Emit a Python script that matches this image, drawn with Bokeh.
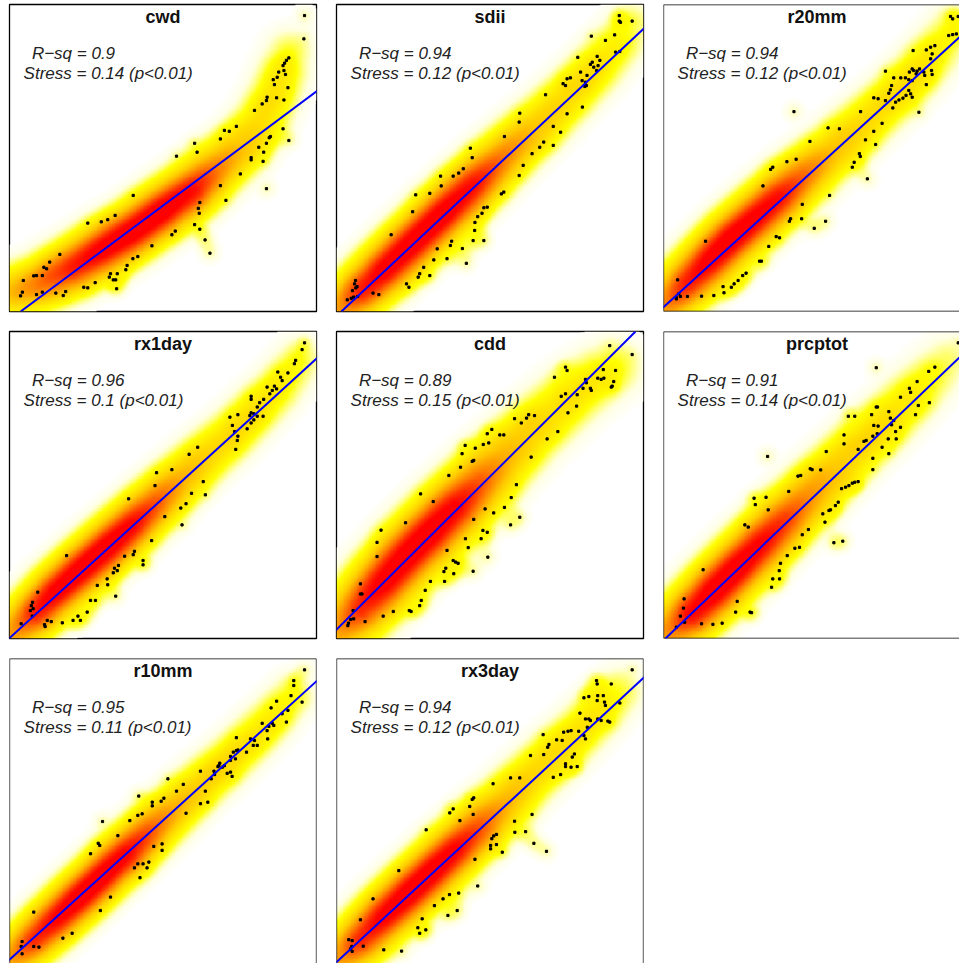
import numpy as np
from bokeh.plotting import figure
from bokeh.layouts import column, row
from bokeh.models import Slope, Span, Label, Range1d
from bokeh.embed import file_html
from bokeh.resources import INLINE

# ---------------- data (panel units 0..100) ----------------
panel_names = ["cwd", "sdii", "r20mm", "rx1day", "cdd", "prcptot", "r10mm", "rx3day"]
r_squared = ["0.9", "0.94", "0.94", "0.96", "0.89", "0.91", "0.95", "0.94"]
stress = ["0.14", "0.12", "0.12", "0.1", "0.15", "0.14", "0.11", "0.12"]
fit_intercept = [-2.7, -1.5, 1.4, 0.15, 2.9, -0.6, 1.9, 1.1]
fit_slope = [0.744, 0.936, 0.912, 0.91, 0.997, 0.956, 0.907, 0.926]

cwd_x = [96.1,95.9,91.0,90.2,89.6,89.1,87.7,89.4,87.2,85.9,89.9,86.3,90.7,83.9,83.7,87.0,89.4,82.3,79.8,89.1,85.0,84.6,83.7,81.2,91.0,82.8,78.7,78.7,82.6,75.2,83.7,70.0,71.6,73.9,68.7,60.3,61.1,54.4,68.7,70.5,62.0,61.5,61.8,60.3,62.0,63.7,65.3,54.0,52.9,40.3,46.4,41.8,40.2,38.3,37.9,35.1,34.6,32.9,33.8,32.5,34.9,27.9,25.5,24.2,25.5,29.9,32.0,34.4,16.4,13.1,12.1,11.2,10.7,8.8,7.9,4.5,4.2,3.6,8.8,10.7,15.1,17.5,18.3]
cwd_y = [96.4,88.8,82.6,81.8,80.9,80.1,78.0,78.5,76.3,75.5,77.2,73.9,72.9,69.8,68.7,69.6,68.9,67.6,65.5,59.5,57.0,56.6,54.8,53.5,55.7,51.9,50.1,49.4,48.9,44.8,40.0,59.0,58.7,60.3,56.2,54.8,51.9,50.6,41.0,36.2,35.5,33.6,32.0,28.3,26.8,23.3,19.0,26.2,25.0,37.8,21.4,17.9,17.2,15.0,13.6,12.3,10.3,12.3,10.3,11.2,7.4,9.4,7.7,7.9,28.8,29.2,29.9,31.3,18.6,16.1,13.9,14.4,11.7,11.7,11.6,10.1,6.3,5.1,5.5,6.3,6.0,5.2,6.5]

sdii_x = [92.1,92.1,92.5,96.3,90.6,87.6,83.0,90.9,92.3,78.6,84.9,83.3,82.7,85.8,83.8,85.2,84.7,79.5,80.0,81.1,81.6,81.4,80.9,76.2,75.1,73.8,74.6,80.1,75.1,68.1,59.7,59.5,70.6,73.0,67.5,66.2,70.6,63.7,60.8,59.5,54.7,54.5,53.7,43.6,44.2,41.3,39.8,38.0,33.9,34.1,30.4,25.8,24.8,17.8,49.1,48.0,47.4,46.0,45.1,45.0,44.5,48.0,37.5,37.1,32.8,31.7,36.0,28.4,27.1,26.6,30.4,22.8,23.6,41.0,42.3,6.2,5.9,6.3,6.7,5.2,6.9,5.6,4.8,3.5,11.9,13.8]
sdii_y = [96.4,94.6,94.2,94.6,90.1,88.3,89.7,84.5,84.7,82.8,83.1,81.2,80.5,81.8,79.6,80.1,78.5,78.0,75.2,74.7,76.9,73.6,73.3,76.1,75.8,74.2,73.6,66.6,64.4,70.6,64.6,61.7,60.3,58.4,55.2,53.5,54.1,51.4,47.6,44.3,57.0,38.9,38.3,53.2,50.1,46.5,45.1,44.1,44.1,40.9,38.5,38.0,32.5,25.0,34.0,33.8,32.0,30.9,29.0,26.4,23.1,23.1,22.9,21.5,20.4,16.8,17.2,14.4,12.3,11.2,11.7,9.0,7.9,20.5,15.7,10.1,9.0,7.7,8.1,6.8,4.9,4.7,4.3,3.8,6.0,5.5]

r20mm_x = [93.5,96.0,94.2,92.9,94.2,95.4,81.3,85.6,87.0,88.4,87.5,87.0,72.3,75.0,80.1,81.0,81.5,82.3,82.6,83.4,79.9,81.0,78.8,77.3,84.8,85.1,87.3,87.5,85.6,74.3,73.9,73.4,79.9,80.5,79.0,81.0,78.0,76.7,75.6,74.7,72.3,68.5,69.9,83.2,42.5,64.2,53.6,57.3,71.2,68.5,65.8,69.1,47.7,63.8,64.1,62.1,61.5,66.4,43.2,40.2,35.6,34.9,32.4,54.1,45.2,45.0,41.4,41.0,52.8,49.1,36.7,37.8,34.3,31.3,31.9,13.7,26.9,25.8,24.3,23.0,22.1,19.4,19.7,16.4,12.4,7.8,4.6,5.0,5.5,4.1,4.2]
r20mm_y = [96.1,96.1,95.3,89.9,90.2,90.4,85.0,85.2,86.1,86.6,83.9,82.3,78.3,76.1,78.0,79.0,78.5,77.4,78.3,79.0,75.5,75.2,76.1,76.1,78.0,76.9,78.5,77.2,73.9,73.6,72.2,71.1,72.0,70.9,70.4,69.8,69.5,68.9,68.2,66.3,68.7,69.6,69.3,64.9,65.1,65.1,59.8,59.5,61.3,58.7,55.9,54.4,55.4,51.4,50.5,48.6,47.0,43.2,49.6,48.8,47.0,46.3,40.9,37.8,34.9,30.2,30.2,29.4,29.4,27.1,24.4,24.0,21.2,16.4,16.4,22.9,12.5,11.7,10.1,9.0,7.9,8.1,6.1,5.2,5.0,4.9,10.3,5.8,4.9,4.7,4.1]

rx1day_x = [96.1,95.3,93.2,92.8,90.7,87.4,88.3,88.8,86.3,85.6,87.0,83.9,84.8,78.7,78.7,82.8,81.5,80.7,78.7,79.6,78.3,80.7,82.6,79.6,78.7,77.4,74.4,71.8,72.6,73.3,74.4,74.2,73.7,61.3,58.5,52.9,47.9,47.4,38.8,63.1,63.8,59.3,57.5,55.8,50.6,56.2,46.3,40.7,40.3,43.5,43.5,37.5,35.5,34.2,33.8,35.1,31.8,32.0,28.6,28.0,26.4,25.3,34.6,18.6,9.2,7.5,7.1,7.7,6.8,7.4,22.3,23.1,20.7,17.2,13.6,12.3,11.6,11.4,3.8]
rx1day_y = [96.3,94.1,90.6,89.5,86.5,86.8,85.1,84.0,82.2,80.8,81.3,81.9,79.7,78.9,77.9,77.9,76.8,75.4,73.5,73.2,72.6,72.4,72.4,71.2,70.2,68.3,72.9,72.1,69.4,67.4,65.9,64.5,61.6,62.3,60.0,55.0,54.0,49.8,45.5,51.1,46.8,47.3,43.9,42.5,39.7,37.0,31.9,28.4,27.3,25.4,24.0,26.8,23.8,22.9,21.4,22.1,19.4,17.5,17.3,12.4,12.4,8.6,13.8,27.0,15.1,11.8,10.7,9.7,9.1,7.3,7.3,5.9,5.9,5.1,5.5,5.9,3.9,4.5,4.8]

cdd_x = [89.0,96.3,74.6,75.1,71.0,86.9,90.9,85.1,86.2,87.1,90.3,89.8,89.5,81.1,81.4,80.3,82.7,83.0,78.4,73.2,74.6,78.2,75.4,72.1,68.6,63.4,64.5,62.6,61.9,60.2,58.0,54.5,53.2,50.6,49.1,49.6,47.8,45.2,44.7,44.2,41.9,40.9,40.4,36.6,27.4,31.5,22.5,14.5,13.2,13.2,58.6,56.9,59.7,56.7,54.7,51.2,48.4,44.7,47.7,49.1,42.0,42.9,47.1,49.3,36.0,38.0,38.8,39.6,35.6,35.0,38.2,44.5,30.6,35.2,28.9,27.6,27.1,24.3,23.7,18.5,15.2,9.3,7.8,7.8,8.3,5.4,5.6,4.6,3.9,3.7]
cdd_y = [95.4,92.5,88.4,87.3,85.1,87.6,87.3,84.8,84.4,84.8,83.7,82.2,81.9,84.4,83.3,81.5,81.5,80.8,79.4,78.9,79.7,75.7,73.5,67.4,65.0,59.1,72.6,72.9,71.8,70.2,71.6,66.3,66.3,68.1,66.7,63.7,63.2,62.0,58.0,57.7,62.9,60.2,55.8,53.1,47.1,44.6,37.7,35.3,31.3,26.7,50.1,45.9,39.5,37.0,42.7,40.9,42.2,38.8,35.2,34.6,32.5,29.6,32.5,26.5,28.7,25.4,24.9,24.5,22.9,21.8,21.1,21.9,18.6,18.6,15.7,12.4,10.7,8.8,9.1,8.8,7.3,5.5,17.8,14.5,14.5,9.1,6.4,6.2,5.0,4.2]

prcptot_x = [96.0,69.3,88.4,86.4,82.6,80.1,80.5,77.2,86.6,83.0,82.1,69.3,69.7,62.3,60.2,67.8,73.4,73.9,74.3,75.0,77.2,75.6,75.8,73.2,71.2,73.4,68.5,69.9,69.6,68.2,66.0,65.3,63.4,58.8,58.8,68.2,68.2,33.9,53.0,47.8,48.4,51.2,44.7,43.8,40.8,63.4,62.3,61.5,60.4,59.3,58.0,56.9,56.0,54.4,53.9,51.9,52.6,47.2,45.2,42.8,44.3,40.3,38.1,37.7,37.8,35.6,35.2,33.4,29.5,29.9,34.1,26.5,27.6,12.9,55.5,58.4,24.0,23.5,28.7,28.2,19.1,16.1,12.4,6.7,6.5,5.5,6.9,4.2]
prcptot_y = [96.3,88.2,88.4,87.0,83.7,81.5,80.2,78.6,76.8,75.9,72.9,75.4,75.4,72.4,72.4,72.9,73.9,71.8,69.6,71.0,68.8,67.4,65.0,65.0,62.3,60.2,69.4,69.2,66.7,65.9,64.5,64.2,61.6,66.3,63.4,58.7,55.0,59.3,60.9,55.3,55.0,54.9,53.1,52.9,47.9,51.1,50.9,50.6,49.8,49.3,48.8,44.4,43.3,41.9,41.7,40.6,37.9,35.5,33.8,29.4,29.7,27.0,24.5,22.1,19.4,19.4,16.7,46.0,45.7,43.6,41.9,37.0,36.3,22.4,31.2,31.7,12.1,8.6,8.4,8.6,5.0,4.6,4.8,12.9,9.9,7.3,5.3,3.7]

r10mm_x = [96.1,92.6,92.6,91.7,95.3,87.0,85.2,90.7,88.8,90.2,82.3,85.6,84.5,86.1,83.9,84.1,78.5,79.8,80.7,79.4,73.9,77.2,74.4,73.9,72.9,72.0,73.6,72.0,70.0,68.5,68.2,67.9,69.3,66.6,66.8,65.7,72.5,72.0,70.9,62.2,63.8,64.6,62.2,56.6,51.6,54.4,50.3,49.4,46.5,46.5,42.1,43.2,41.8,39.2,30.3,57.5,49.7,49.7,47.0,45.4,43.5,41.8,40.7,44.8,42.5,35.3,28.9,29.4,26.4,32.9,29.6,7.9,17.4,20.4,7.9,9.6,4.1,3.8,4.1]
r10mm_y = [96.3,92.8,91.2,87.9,85.8,86.1,83.9,83.1,82.0,79.3,78.9,78.9,77.9,78.2,76.5,73.8,73.8,73.3,71.7,71.7,74.2,69.5,70.2,70.0,69.5,68.1,67.3,66.8,65.1,65.9,65.1,64.8,64.6,63.3,62.2,60.8,61.6,63.0,62.6,63.3,56.8,53.2,52.7,59.0,60.8,56.8,54.5,53.5,53.2,52.0,55.2,49.4,48.9,47.2,46.9,49.6,39.6,37.5,38.8,33.7,33.1,33.1,31.8,31.8,28.6,42.3,39.8,39.1,36.4,22.3,17.9,17.4,8.9,10.5,6.2,6.0,7.8,6.2,3.8]

rx3day_x = [96.3,84.7,84.9,89.5,82.2,80.6,85.1,86.9,84.9,87.3,87.6,92.3,79.3,81.1,82.2,82.7,85.1,86.2,88.4,89.0,81.7,78.9,75.4,74.0,76.4,80.6,81.1,71.7,73.5,69.2,68.8,67.3,63.2,67.5,77.5,76.8,74.6,74.6,76.4,78.4,73.0,70.6,59.7,56.7,51.0,44.7,44.2,43.4,44.5,36.9,38.0,40.2,51.2,52.1,50.6,50.2,52.1,54.0,50.2,58.0,58.1,61.6,63.7,64.3,68.4,45.1,46.0,29.2,20.3,11.9,7.8,36.8,34.7,39.8,31.9,36.3,39.3,27.9,26.5,27.1,29.1,8.7,15.4,21.2,4.0,5.1,5.0,4.6,5.1]
rx3day_y = [96.3,92.8,91.7,91.7,87.6,87.2,87.9,87.9,86.3,85.8,84.7,85.5,82.2,80.3,80.3,79.8,80.3,79.8,79.6,79.3,77.6,76.3,76.3,76.0,76.5,74.9,73.8,73.5,73.3,72.0,71.1,75.2,68.4,68.7,68.9,67.9,65.7,64.8,64.6,64.8,62.2,61.3,61.1,61.1,59.2,54.6,54.1,51.8,49.2,49.7,51.0,47.2,42.2,42.7,41.3,39.1,39.4,36.9,38.0,47.0,43.4,43.6,49.2,39.8,37.2,34.6,25.9,44.2,30.9,21.7,14.9,23.1,21.7,23.6,19.5,16.3,17.9,15.2,12.3,10.5,11.6,6.3,5.1,4.7,8.4,8.1,6.2,5.4,4.6]

# density ridge (centre of the dense cloud)
cwd_ridge_x = [2, 10, 20, 30, 40, 50, 60, 68, 76, 82, 86, 89, 91]
cwd_ridge_y = [6.5, 9, 14, 20, 26, 33, 40, 47, 54, 62, 70, 78, 84]
cwd_ridge_level = [0.4, 0.55, 0.8, 0.95, 1.0, 1.0, 0.85, 0.55, 0.35, 0.25, 0.2, 0.16, 0.1]

sdii_ridge_x = [2, 8, 15, 25, 35, 45, 55, 65, 75, 85, 92, 96]
sdii_ridge_y = [1.5, 6.5, 13, 22.5, 32, 41.5, 51, 60, 69.5, 79.5, 87.5, 93.5]
sdii_ridge_level = [0.5, 0.75, 0.95, 1.0, 1.0, 0.85, 0.55, 0.35, 0.26, 0.2, 0.14, 0.08]

r20mm_ridge_x = [2, 8, 15, 22, 30, 38, 46, 55, 65, 75, 82, 88, 94]
r20mm_ridge_y = [3.5, 9.5, 16.5, 23.5, 30.5, 37.5, 44.5, 52, 61, 70, 77, 84, 92]
r20mm_ridge_level = [0.55, 0.8, 0.95, 1.0, 0.95, 0.85, 0.6, 0.38, 0.27, 0.22, 0.2, 0.16, 0.1]

rx1day_ridge_x = [2, 8, 15, 24, 32, 40, 48, 56, 65, 73, 80, 87, 94]
rx1day_ridge_y = [2.5, 8, 15, 23, 30, 37, 44.5, 52, 60, 67, 74, 81, 90]
rx1day_ridge_level = [0.5, 0.75, 0.95, 1.0, 1.0, 0.9, 0.65, 0.42, 0.3, 0.24, 0.2, 0.16, 0.1]

cdd_ridge_x = [2, 8, 15, 23, 31, 39, 47, 55, 63, 71, 78, 85, 90]
cdd_ridge_y = [4, 10, 18, 27, 35, 43, 51, 59, 67, 74, 80, 85, 88]
cdd_ridge_level = [0.5, 0.75, 0.95, 1.0, 1.0, 0.9, 0.65, 0.42, 0.3, 0.24, 0.2, 0.16, 0.12]

prcptot_ridge_x = [3, 9, 16, 24, 32, 40, 48, 56, 64, 72, 80, 87, 92]
prcptot_ridge_y = [3, 8, 15, 23, 31, 39, 47, 55, 63, 70, 78, 85, 90]
prcptot_ridge_level = [0.55, 0.85, 1.0, 1.0, 0.9, 0.72, 0.5, 0.35, 0.27, 0.22, 0.18, 0.12, 0.08]

r10mm_ridge_x = [2, 8, 15, 22, 30, 38, 46, 54, 62, 70, 78, 85, 92]
r10mm_ridge_y = [3, 8.5, 15, 21.5, 29, 36.5, 44, 51, 58.5, 65.5, 73, 80, 88]
r10mm_ridge_level = [0.5, 0.75, 0.9, 1.0, 1.0, 0.9, 0.65, 0.42, 0.3, 0.24, 0.2, 0.16, 0.1]

rx3day_ridge_x = [2, 8, 15, 23, 31, 39, 47, 55, 63, 71, 79, 86, 92]
rx3day_ridge_y = [3, 8.5, 15.5, 23, 30.5, 38, 45.5, 53, 61, 68.5, 76, 83, 89]
rx3day_ridge_level = [0.5, 0.75, 0.92, 1.0, 1.0, 0.9, 0.65, 0.42, 0.3, 0.24, 0.2, 0.16, 0.1]

ridge_spread = [5.0, 5.0, 5.0, 4.8, 5.8, 5.3, 4.6, 5.0]

dots = [(cwd_x, cwd_y), (sdii_x, sdii_y), (r20mm_x, r20mm_y), (rx1day_x, rx1day_y),
        (cdd_x, cdd_y), (prcptot_x, prcptot_y), (r10mm_x, r10mm_y), (rx3day_x, rx3day_y)]
ridges = [(cwd_ridge_x, cwd_ridge_y, cwd_ridge_level), (sdii_ridge_x, sdii_ridge_y, sdii_ridge_level),
          (r20mm_ridge_x, r20mm_ridge_y, r20mm_ridge_level), (rx1day_ridge_x, rx1day_ridge_y, rx1day_ridge_level),
          (cdd_ridge_x, cdd_ridge_y, cdd_ridge_level), (prcptot_ridge_x, prcptot_ridge_y, prcptot_ridge_level),
          (r10mm_ridge_x, r10mm_ridge_y, r10mm_ridge_level), (rx3day_ridge_x, rx3day_ridge_y, rx3day_ridge_level)]

# ---------------- density rendering ----------------
N = 220
g = (np.arange(N) + 0.5) * 100.0 / N
GX, GY = np.meshgrid(g, g)

def density(rx, ry, rl, sig, px, py):
    ridge = np.zeros_like(GX)
    for k in range(len(rx) - 1):
        ax, ay, bx, by = rx[k], ry[k], rx[k + 1], ry[k + 1]
        vx, vy = bx - ax, by - ay
        L2 = vx * vx + vy * vy
        t = np.clip(((GX - ax) * vx + (GY - ay) * vy) / L2, 0, 1)
        d2 = (GX - (ax + t * vx)) ** 2 + (GY - (ay + t * vy)) ** 2
        lev = rl[k] + t * (rl[k + 1] - rl[k])
        ridge = np.maximum(ridge, lev * np.exp(-d2 / (2 * sig ** 2)))
    halo = np.zeros_like(GX)
    for x, y in zip(px, py):
        halo += np.exp(-((GX - x) ** 2 + (GY - y) ** 2) / (2 * 2.5 ** 2))
    halo = 0.16 * (1 - np.exp(-0.3 * halo ** 1.5))
    return np.clip(np.maximum(ridge, halo) + 0.3 * np.minimum(ridge, halo), 0, 1)

stops = [0.0, 0.03, 0.07, 0.12, 0.35, 0.55, 0.75, 0.88, 1.0]
reds = [255, 255, 255, 255, 255, 255, 255, 255, 255]
greens = [255, 255, 255, 255, 200, 130, 45, 0, 0]
blues = [255, 225, 120, 0, 0, 0, 0, 0, 0]

def to_rgba(v):
    img = np.empty((N, N), dtype=np.uint32)
    view = img.view(dtype=np.uint8).reshape((N, N, 4))
    view[:, :, 0] = np.interp(v, stops, reds).astype(np.uint8)
    view[:, :, 1] = np.interp(v, stops, greens).astype(np.uint8)
    view[:, :, 2] = np.interp(v, stops, blues).astype(np.uint8)
    view[:, :, 3] = np.where(v < 0.005, 0, 255).astype(np.uint8)
    return img

# ---------------- layout ----------------
widths = [326, 327, 306]; lefts = [9, 10, 10]; rights = [10, 10, 0]
heights = [321, 327, 315]; tops = [4, 10, 10]; bottoms = [10, 10, 0]
FONT = "Liberation Sans"

figs = []
for i, name in enumerate(panel_names):
    r, c = divmod(i, 3)
    xr = (0, 100) if c < 2 else (0, 100 * (widths[c] - lefts[c] - rights[c]) / 307.0)
    yr = (0, 100) if r < 2 else (100 - 100 * (heights[r] - tops[r] - bottoms[r]) / 307.0, 100)
    p = figure(width=widths[c], height=heights[r], x_range=Range1d(*xr), y_range=Range1d(*yr),
               output_backend="svg", toolbar_location=None, title=None,
               x_axis_location=None, y_axis_location=None,
               min_border_left=lefts[c], min_border_right=rights[c],
               min_border_top=tops[r], min_border_bottom=bottoms[r],
               background_fill_color="white", border_fill_color="white")
    p.grid.visible = False
    clipped = (c == 2) or (r == 2)
    if clipped:
        p.outline_line_color = None
        p.add_layout(Span(location=0, dimension="height", line_color="black", line_width=1.3))
        p.add_layout(Span(location=100, dimension="width", line_color="black", line_width=1.3))
        if c < 2:
            p.add_layout(Span(location=100, dimension="height", line_color="black", line_width=1.3))
        if r < 2:
            p.add_layout(Span(location=0, dimension="width", line_color="black", line_width=1.3))
    else:
        p.outline_line_color = "black"
        p.outline_line_width = 1.3

    rx, ry, rl = ridges[i]
    px, py = dots[i]
    n = min(len(px), len(py))
    px, py = px[:n], py[:n]
    v = density(rx, ry, rl, ridge_spread[i], px, py)
    p.image_rgba(image=[to_rgba(v)], x=0, y=0, dw=100, dh=100)

    p.scatter(px, py, marker="square", size=2.2, color="black")
    p.add_layout(Slope(gradient=fit_slope[i], y_intercept=fit_intercept[i],
                       line_color="#0000FF", line_width=2))

    p.add_layout(Label(x=50, y=95.8, text=name, text_align="center", text_baseline="alphabetic",
                       text_font=FONT, text_font_style="bold", text_font_size="18px", text_color="#111111"))
    p.add_layout(Label(x=7.3, y=84.1, text="R\u2212sq = " + r_squared[i], text_align="left",
                       text_baseline="alphabetic", text_font=FONT, text_font_style="italic",
                       text_font_size="17px", text_color="#222222"))
    p.add_layout(Label(x=4.6, y=77.6, text="Stress = " + stress[i] + " (p<0.01)", text_align="left",
                       text_baseline="alphabetic", text_font=FONT, text_font_style="italic",
                       text_font_size="17px", text_color="#222222"))
    figs.append(p)

layout = column(row(figs[0], figs[1], figs[2]),
                row(figs[3], figs[4], figs[5]),
                row(figs[6], figs[7]))

open("out.html", "w").write(file_html(layout, INLINE))
